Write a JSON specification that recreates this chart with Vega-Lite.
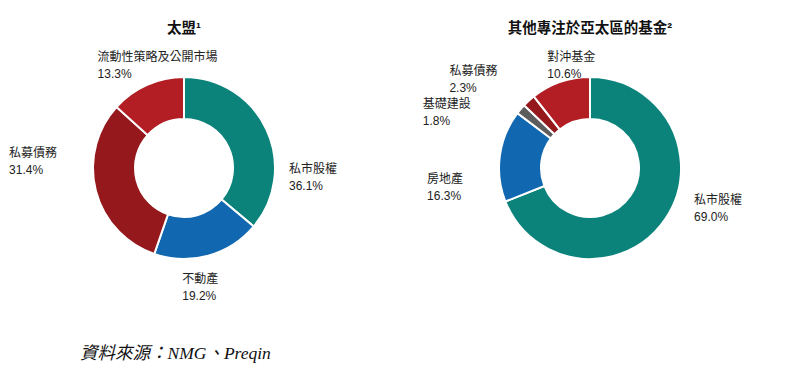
{
  "$schema": "https://vega.github.io/schema/vega-lite/v6.json",
  "padding": {"left": 0, "right": 0, "top": 20, "bottom": 0},
  "background": "white",
  "config": {
    "view": {"stroke": null},
    "font": "Liberation Sans, Noto Sans CJK TC",
    "title": {"font": "Liberation Sans, Noto Sans CJK TC", "fontSize": 14.5, "fontWeight": "bold", "color": "#111111", "offset": 9}
  },
  "title": {
    "text": "資料來源：NMG、Preqin",
    "orient": "bottom",
    "anchor": "start",
    "dx": 80,
    "offset": 43,
    "font": "Liberation Serif, Noto Sans CJK TC",
    "fontStyle": "italic",
    "fontWeight": "normal",
    "fontSize": 17.5,
    "color": "#111111"
  },
  "spacing": 38,
  "hconcat": [
    {
      "title": "太盟¹",
      "width": 368,
      "height": 246,
      "data": {"values": [
        {"name": "私市股權", "value": 36.1, "rank": 1},
        {"name": "不動產", "value": 19.2, "rank": 2},
        {"name": "私募債務", "value": 31.4, "rank": 3},
        {"name": "流動性策略及公開市場", "value": 13.3, "rank": 4}
      ]},
      "transform": [{"calculate": "datum.name + '|' + format(datum.value, '.1f') + '%'", "as": "label"}],
      "encoding": {
        "theta": {"field": "value", "type": "quantitative", "stack": true},
        "order": {"field": "rank", "type": "quantitative"}
      },
      "layer": [
        {
          "mark": {"type": "arc", "outerRadius": 91, "innerRadius": 49, "stroke": "white", "strokeWidth": 2},
          "encoding": {
            "color": {"field": "name", "type": "nominal", "legend": null,
              "scale": {"domain": ["私市股權", "不動產", "房地產", "私募債務", "流動性策略及公開市場", "基礎建設", "對沖基金"],
                        "range": ["#0b837b", "#1168b0", "#1168b0", "#94181c", "#b21e24", "#5c5c5c", "#b21e24"]}}
          }
        },
        {
          "mark": {"type": "text", "radius": 0, "lineBreak": "|", "lineHeight": 17, "fontSize": 12, "color": "#222222", "baseline": "middle", "align": "left",
            "dx": {"expr": "(105 + 12*pow(sin(2*(PI*(datum.value_start+datum.value_end)/100 - 0.4538*sin(4*PI*(datum.value_start+datum.value_end)/100))), 2))*sin(PI*(datum.value_start+datum.value_end)/100 - 0.4538*sin(4*PI*(datum.value_start+datum.value_end)/100)) + (sin(PI*(datum.value_start+datum.value_end)/100 - 0.4538*sin(4*PI*(datum.value_start+datum.value_end)/100)) > 0.3 ? 0 : (sin(PI*(datum.value_start+datum.value_end)/100 - 0.4538*sin(4*PI*(datum.value_start+datum.value_end)/100)) < -0.3 ? -max(length(datum.name)*12, 34) - 22 : -max(length(datum.name)*12, 34)/2 + (sin(PI*(datum.value_start+datum.value_end)/100) > 0 ? 30 : -30)))"},
            "dy": {"expr": "-(111 + 12*pow(sin(2*(PI*(datum.value_start+datum.value_end)/100 - 0.4538*sin(4*PI*(datum.value_start+datum.value_end)/100))), 2))*cos(PI*(datum.value_start+datum.value_end)/100 - 0.4538*sin(4*PI*(datum.value_start+datum.value_end)/100))"}},
          "encoding": {"text": {"field": "label", "type": "nominal"}}
        }
      ]
    },
    {
      "title": "其他專注於亞太區的基金²",
      "width": 368,
      "height": 246,
      "data": {"values": [
        {"name": "私市股權", "value": 69.0, "rank": 1},
        {"name": "房地產", "value": 16.3, "rank": 2},
        {"name": "基礎建設", "value": 1.8, "rank": 3},
        {"name": "私募債務", "value": 2.3, "rank": 4},
        {"name": "對沖基金", "value": 10.6, "rank": 5}
      ]},
      "transform": [{"calculate": "datum.name + '|' + format(datum.value, '.1f') + '%'", "as": "label"}],
      "encoding": {
        "theta": {"field": "value", "type": "quantitative", "stack": true},
        "order": {"field": "rank", "type": "quantitative"}
      },
      "layer": [
        {
          "mark": {"type": "arc", "outerRadius": 91, "innerRadius": 49, "stroke": "white", "strokeWidth": 2},
          "encoding": {
            "color": {"field": "name", "type": "nominal", "legend": null,
              "scale": {"domain": ["私市股權", "不動產", "房地產", "私募債務", "流動性策略及公開市場", "基礎建設", "對沖基金"],
                        "range": ["#0b837b", "#1168b0", "#1168b0", "#8f1a1e", "#b21e24", "#5c5c5c", "#b21e24"]}}
          }
        },
        {
          "mark": {"type": "text", "radius": 0, "lineBreak": "|", "lineHeight": 17, "fontSize": 12, "color": "#222222", "baseline": "middle", "align": "left",
            "dx": {"expr": "(105 + 12*pow(sin(2*(PI*(datum.value_start+datum.value_end)/100 - 0.4538*sin(4*PI*(datum.value_start+datum.value_end)/100))), 2))*sin(PI*(datum.value_start+datum.value_end)/100 - 0.4538*sin(4*PI*(datum.value_start+datum.value_end)/100)) + (sin(PI*(datum.value_start+datum.value_end)/100 - 0.4538*sin(4*PI*(datum.value_start+datum.value_end)/100)) > 0.3 ? 0 : (sin(PI*(datum.value_start+datum.value_end)/100 - 0.4538*sin(4*PI*(datum.value_start+datum.value_end)/100)) < -0.3 ? -max(length(datum.name)*12, 34) - 22 : -max(length(datum.name)*12, 34)/2 + (sin(PI*(datum.value_start+datum.value_end)/100) > 0 ? 30 : -30)))"},
            "dy": {"expr": "-(111 + 12*pow(sin(2*(PI*(datum.value_start+datum.value_end)/100 - 0.4538*sin(4*PI*(datum.value_start+datum.value_end)/100))), 2))*cos(PI*(datum.value_start+datum.value_end)/100 - 0.4538*sin(4*PI*(datum.value_start+datum.value_end)/100))"}},
          "encoding": {"text": {"field": "label", "type": "nominal"}}
        }
      ]
    }
  ]
}
